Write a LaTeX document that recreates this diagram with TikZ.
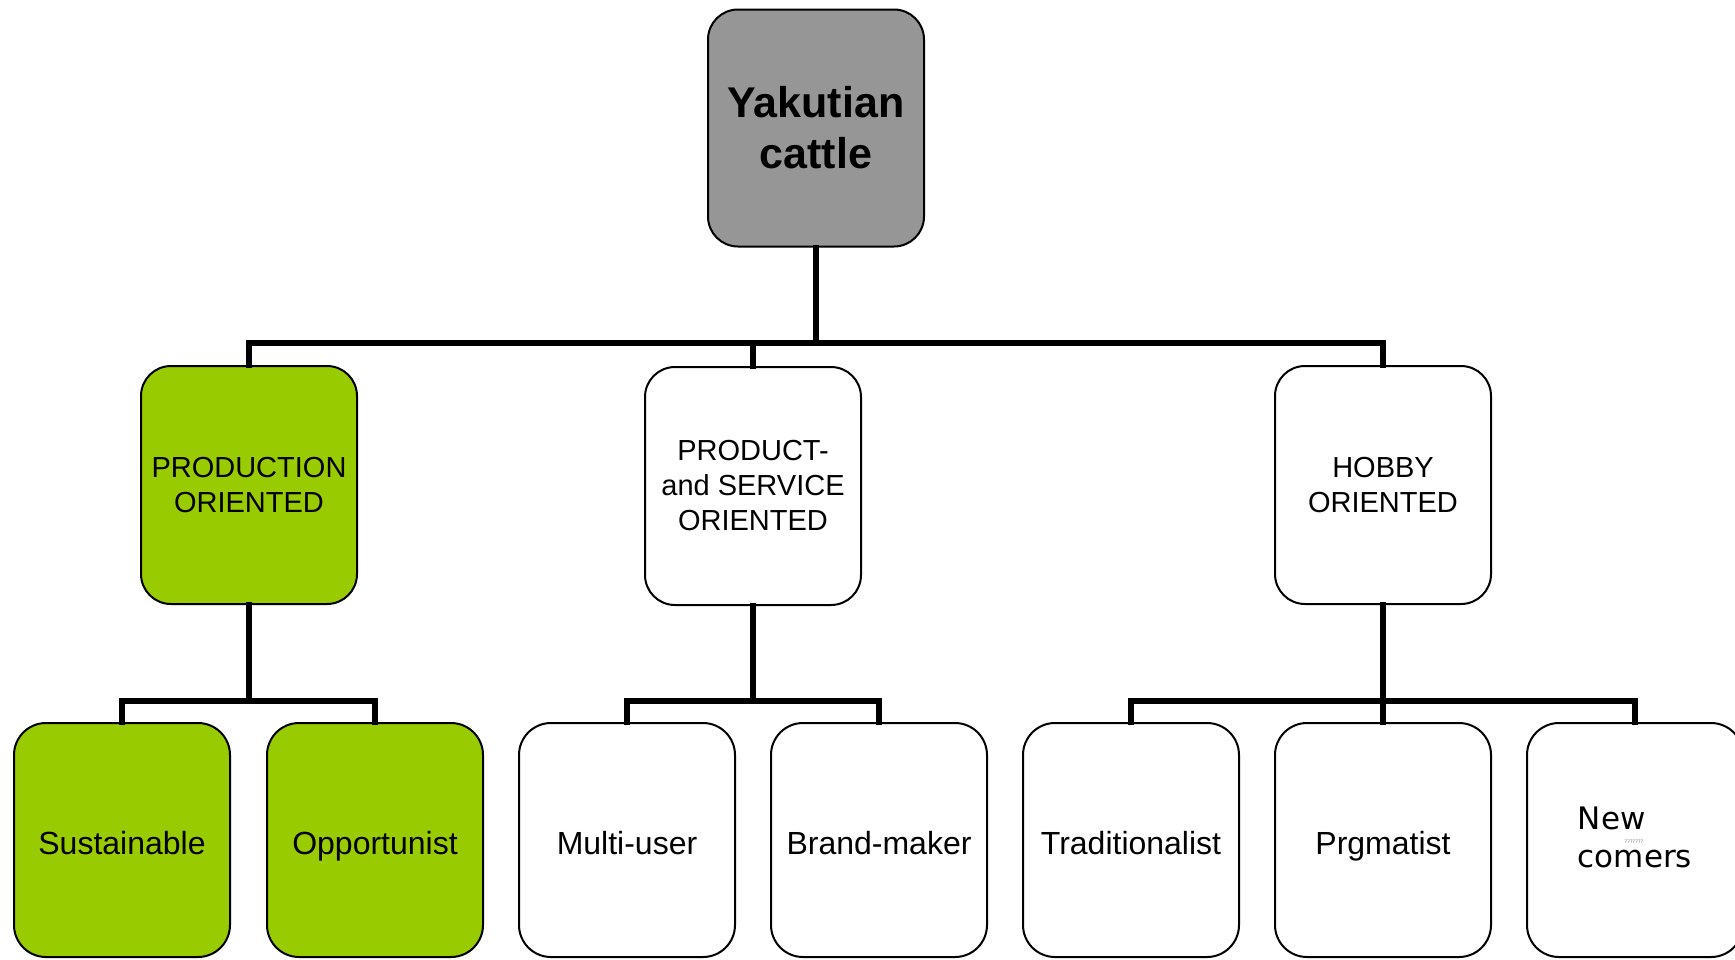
\documentclass[tikz,border=0pt]{standalone}
\usepackage{fontspec}
\setmainfont{Liberation Sans}
\newfontfamily\dejavu{DejaVu Sans}
\definecolor{boxgreen}{RGB}{153,204,0}
\definecolor{boxgray}{RGB}{150,150,150}
\begin{document}
\begin{tikzpicture}[x=1pt,y=-1pt,
  box/.style={draw=black,line width=2pt,rounded corners=30pt,inner sep=0pt,align=center,text=black},
  rootbox/.style={box,fill=boxgray,minimum width=216pt,minimum height=237pt,font=\fontsize{43}{51}\selectfont\bfseries},
  midbox/.style={box,minimum width=216pt,minimum height=238pt,font=\fontsize{29}{35}\selectfont},
  leafbox/.style={box,rounded corners=32pt,minimum width=216pt,minimum height=234pt,text height=28pt,text depth=0pt,font=\fontsize{32}{38}\selectfont},
  greenbox/.style={fill=boxgreen},
  whitebox/.style={fill=white},
  conn/.style={line width=6pt,line join=miter,line cap=rect}]
\clip (0,0) rectangle (1735,959);
\fill[white] (0,0) rectangle (1735,959);
\coordinate (bar1) at (816,343);
\coordinate (bar2) at (249,701);
\coordinate (bar3) at (753,701);
\coordinate (bar4) at (1383,701);
\node[rootbox] (root) at (816,128) {Yakutian\\cattle};
\node[midbox,greenbox] (prod) at (249,485) {PRODUCTION\\ORIENTED};
\node[midbox,whitebox] (serv) at (753,486) {PRODUCT-\\and SERVICE\\ORIENTED};
\node[midbox,whitebox] (hobby) at (1383,485) {HOBBY\\ORIENTED};
\node[leafbox,greenbox] (sust) at (122,840) {Sustainable};
\node[leafbox,greenbox] (opp) at (375,840) {Opportunist};
\node[leafbox,whitebox] (multi) at (627,840) {Multi-user};
\node[leafbox,whitebox] (brand) at (879,840) {Brand-maker};
\node[leafbox,whitebox] (trad) at (1131,840) {Traditionalist};
\node[leafbox,whitebox] (prag) at (1383,840) {Prgmatist};
\node[box,whitebox,rounded corners=32pt,minimum width=216pt,minimum height=234pt,align=left,font=\dejavu\fontsize{31}{38}\selectfont] (newc) at (1635,840) {\raisebox{5pt}{New}\\\raisebox{5pt}{comers}};
\node[font=\dejavu\fontsize{5}{5}\selectfont,text=gray,inner sep=0pt] (qq) at (1634,842) {???????};
\draw[conn] (root.south) -- (bar1);
\draw[conn] (prod.north) |- (hobby.north |- bar1) -- (hobby.north);
\draw[conn] (serv.north) -- (serv.north |- bar1);
\draw[conn] (prod.south) -- (bar2);
\draw[conn] (sust.north) |- (opp.north |- bar2) -- (opp.north);
\draw[conn] (serv.south) -- (bar3);
\draw[conn] (multi.north) |- (brand.north |- bar3) -- (brand.north);
\draw[conn] (hobby.south) -- (prag.north);
\draw[conn] (trad.north) |- (newc.north |- bar4) -- (newc.north);
\end{tikzpicture}
\end{document}
